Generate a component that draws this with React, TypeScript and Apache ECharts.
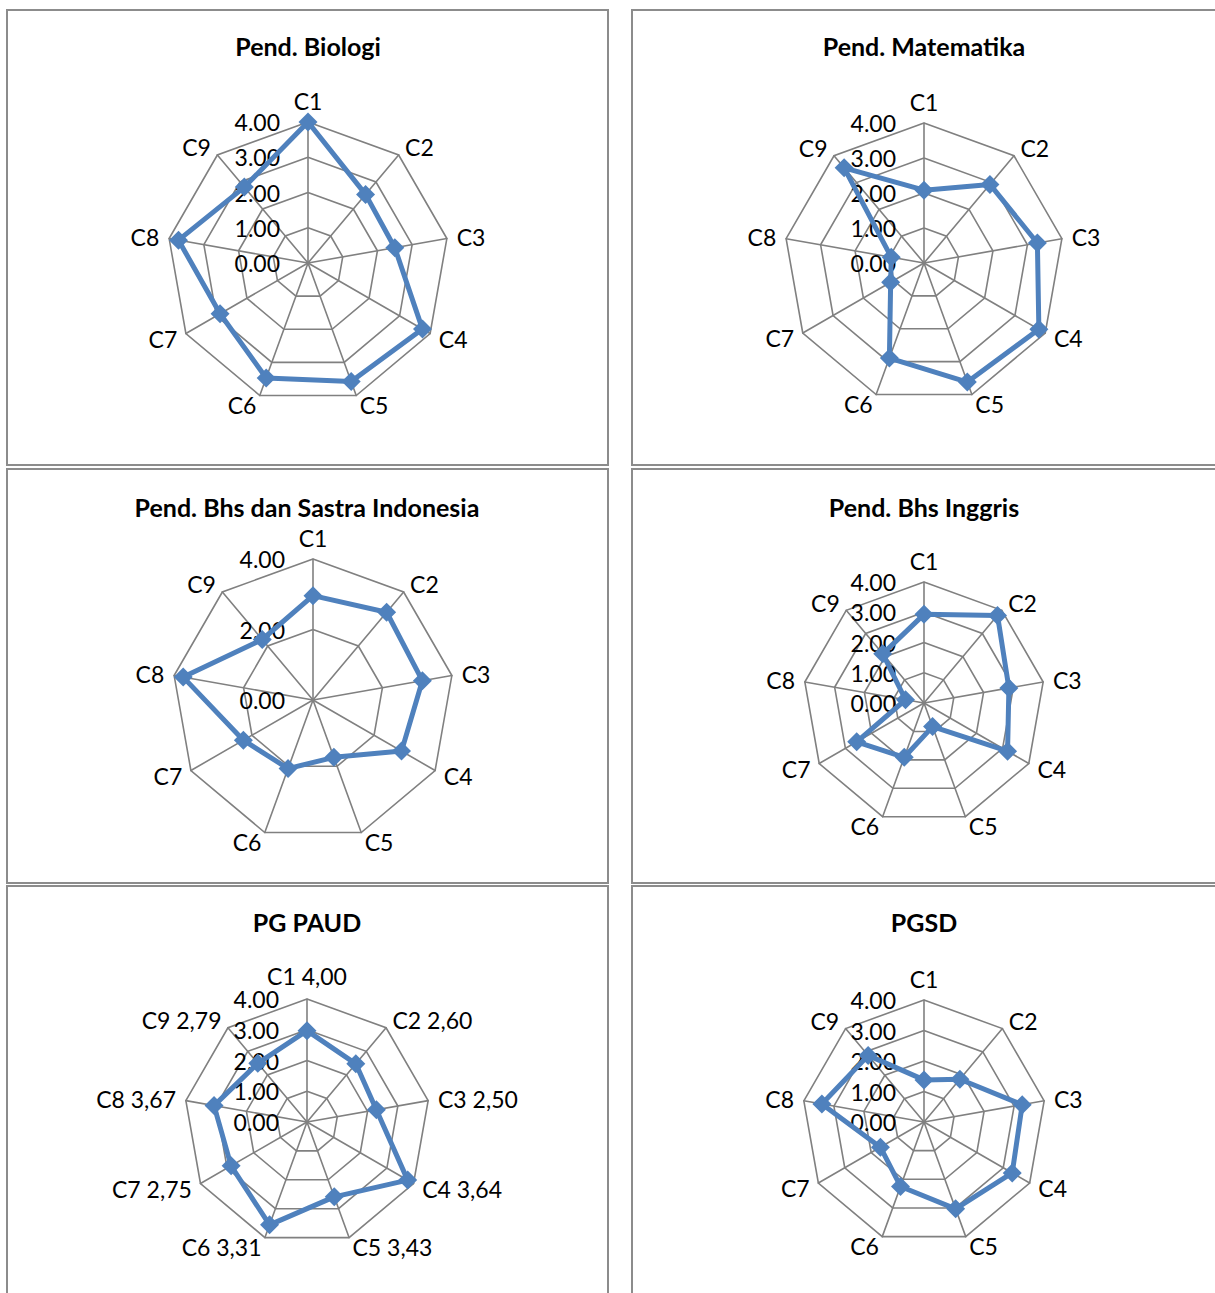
import React, { useEffect, useRef } from 'react';
import * as echarts from 'echarts';

// ---- data ----
const categories = ['C1', 'C2', 'C3', 'C4', 'C5', 'C6', 'C7', 'C8', 'C9'];
const paudCategories = ['C1 4,00', 'C2 2,60', 'C3 2,50', 'C4 3,64', 'C5 3,43', 'C6 3,31', 'C7 2,75', 'C8 3,67', 'C9 2,79'];
const titles = ['Pend. Biologi', 'Pend. Matematika', 'Pend. Bhs dan Sastra Indonesia', 'Pend. Bhs Inggris', 'PG PAUD', 'PGSD'];

const biologi = [4.0, 2.54, 2.5, 3.75, 3.58, 3.47, 2.88, 3.73, 2.81];
const matematika = [2.08, 2.93, 3.29, 3.79, 3.62, 2.89, 1.1, 0.95, 3.55];
const bhsIndonesia = [2.96, 3.25, 3.15, 2.9, 1.73, 2.07, 2.28, 3.74, 2.24];
const bhsInggris = [2.93, 3.78, 2.85, 3.19, 0.83, 1.91, 2.57, 0.62, 2.12];
const pgPaud = [2.97, 2.47, 2.29, 3.78, 2.59, 3.56, 2.85, 3.07, 2.49];
const pgsd = [1.38, 1.83, 3.27, 3.34, 3.03, 2.25, 1.65, 3.4, 2.85];

const axisMin = 0;
const axisMax = 4;
const splitCounts = [4, 4, 2, 4, 4, 4];

// ---- layout ----
const panels = [
  { rect: [7, 10, 601, 455], center: [308, 263], r: 141, titleX: 308, titleY: 46 },
  { rect: [632, 10, 700, 455], center: [924, 263], r: 140, titleX: 924, titleY: 46 },
  { rect: [7, 469, 601, 414], center: [313, 700], r: 141, titleX: 307, titleY: 507 },
  { rect: [632, 469, 700, 414], center: [924, 703], r: 121, titleX: 924, titleY: 507 },
  { rect: [7, 886, 601, 500], center: [307, 1122], r: 123, titleX: 307, titleY: 922 },
  { rect: [632, 886, 700, 500], center: [924, 1122], r: 122, titleX: 924, titleY: 922 },
];

const seriesData = [biologi, matematika, bhsIndonesia, bhsInggris, pgPaud, pgsd];
const nameSets = [categories, categories, categories, categories, paudCategories, categories];

// ECharts lays indicators counter-clockwise; reorder so C2 sits on the right like Excel
const order = [0, 8, 7, 6, 5, 4, 3, 2, 1];

const FONT = 'Lato, "Liberation Sans", sans-serif';
const GRID = '#808080';
const BLUE = '#4F81BD';

export default function App() {
  const ref = useRef<HTMLDivElement>(null);
  useEffect(() => {
    if (!ref.current) return;
    const chart = echarts.init(ref.current, undefined, { renderer: 'svg' });

    const radar = panels.map((p, i) => ({
      center: p.center,
      radius: p.r,
      startAngle: 90,
      shape: 'polygon',
      splitNumber: splitCounts[i],
      nameGap: 10,
      axisName: { color: '#000', fontSize: 23, fontFamily: FONT },
      axisLine: { show: true, lineStyle: { color: GRID, width: 1.6 } },
      splitLine: { show: true, lineStyle: { color: GRID, width: 1.6 } },
      splitArea: { show: false },
      axisTick: { show: false },
      axisLabel: { show: false },
      indicator: order.map((k, j) => {
        const ind: any = { name: nameSets[i][k], min: axisMin, max: axisMax };
        if (j === 0) {
          ind.axisLabel = {
            show: true,
            margin: 28,
            color: '#000',
            fontSize: 23,
            fontFamily: FONT,
            padding: [7, 0, 0, 0],
            formatter: (v: number) => v.toFixed(2),
          };
        }
        return ind;
      }),
    }));

    const series = seriesData.map((vals, i) => ({
      type: 'radar',
      radarIndex: i,
      symbol: 'diamond',
      symbolSize: 19,
      lineStyle: { color: BLUE, width: 5 },
      itemStyle: { color: BLUE },
      z: 5,
      data: [{ value: order.map((k) => vals[k]), name: titles[i] }],
    }));

    const graphic: any[] = [];
    panels.forEach((p, i) => {
      graphic.push({
        type: 'rect',
        shape: { x: p.rect[0], y: p.rect[1], width: p.rect[2], height: p.rect[3] },
        style: { fill: 'none', stroke: '#8c8c8c', lineWidth: 2 },
        silent: true,
        z: -10,
      });
      graphic.push({
        type: 'text',
        x: p.titleX,
        y: p.titleY,
        style: {
          text: titles[i],
          align: 'center',
          verticalAlign: 'middle',
          font: `bold 25px ${FONT}`,
          fill: '#000',
        },
        silent: true,
      });
    });

    chart.setOption({
      animation: false,
      backgroundColor: '#fff',
      radar,
      series,
      graphic,
    });
    return () => chart.dispose();
  }, []);

  return (
    <div
      ref={ref}
      style={{ position: 'absolute', left: 0, top: 0, width: 1215, height: 1293 }}
    />
  );
}
